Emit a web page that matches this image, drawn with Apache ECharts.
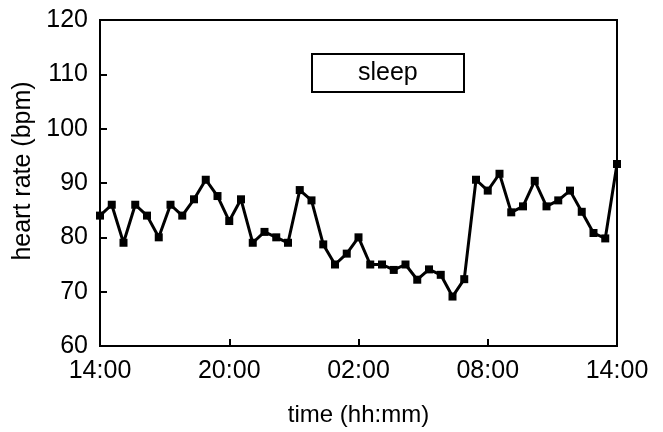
<!DOCTYPE html>
<html>
<head>
<meta charset="utf-8">
<script src="https://cdn.jsdelivr.net/npm/echarts@6/dist/echarts.min.js"></script>
<style>
html,body{margin:0;padding:0;background:#fff;}
#chart{width:663px;height:432px;}
</style>
</head>
<body>
<div id="chart"></div>
<script>
// Time stamps of the samples (24 h, 45 samples)
var times = ["14:00","14:33","15:05","15:38","16:11","16:44","17:16","17:49","18:22","18:55",
  "19:27","20:00","20:33","21:05","21:38","22:11","22:44","23:16","23:49","00:22",
  "00:55","01:27","02:00","02:33","03:05","03:38","04:11","04:44","05:16","05:49",
  "06:22","06:55","07:27","08:00","08:33","09:05","09:38","10:11","10:44","11:16",
  "11:49","12:22","12:55","13:27","14:00"];
// Heart rate (bpm)
var heartRate = [84,86,79,86,84,80,86,84,87,90.6,
  87.6,83,87,79,81,80,79,88.7,86.8,78.7,
  75,77,80,75,75,74,75,72.2,74.1,73.1,
  69.1,72.3,90.6,88.6,91.7,84.6,85.7,90.4,85.7,86.8,
  88.6,84.7,80.8,79.8,93.5];
var yTicks = [60,70,80,90,100,110,120];
var seriesName = "sleep";

var chart = echarts.init(document.getElementById('chart'));
var font = "'Liberation Sans', Arial, sans-serif";
chart.setOption({
  animation: false,
  backgroundColor: '#fff',
  title: {
    text: seriesName,
    left: 312, top: 54,
    borderColor: '#000', borderWidth: 2,
    padding: [6, 46, 6, 46],
    textStyle: {fontFamily: font, fontSize: 25, lineHeight: 26, fontWeight: 'normal', color: '#000'}
  },
  grid: {
    left: 100, right: 46, top: 20, bottom: 86,
    show: true, borderColor: '#000', borderWidth: 2, backgroundColor: 'transparent'
  },
  xAxis: {
    type: 'category',
    data: times,
    boundaryGap: false,
    name: 'time (hh:mm)',
    nameLocation: 'middle',
    nameGap: 57,
    nameTextStyle: {fontFamily: font, fontSize: 24, color: '#000'},
    axisLine: {lineStyle: {color: '#000', width: 2}},
    axisTick: {inside: true, length: 7, interval: 10, lineStyle: {color: '#000', width: 2}},
    axisLabel: {interval: 10, margin: 13, fontFamily: font, fontSize: 25, color: '#000'},
    splitLine: {show: false}
  },
  yAxis: {
    type: 'value',
    min: yTicks[0], max: yTicks[yTicks.length - 1], interval: 10,
    name: 'heart rate (bpm)',
    nameLocation: 'middle',
    nameGap: 62,
    nameTextStyle: {fontFamily: font, fontSize: 25, color: '#000', padding: [0, 0, 0, 24]},
    axisLine: {show: true, lineStyle: {color: '#000', width: 2}},
    axisTick: {show: true, inside: true, length: 7, lineStyle: {color: '#000', width: 2}},
    axisLabel: {margin: 12, fontFamily: font, fontSize: 25, color: '#000'},
    splitLine: {show: false}
  },
  series: [{
    name: seriesName,
    type: 'line',
    data: heartRate,
    symbol: 'rect',
    symbolSize: 8,
    showAllSymbol: true,
    lineStyle: {color: '#000', width: 3},
    itemStyle: {color: '#000'}
  }]
});
</script>
</body>
</html>
